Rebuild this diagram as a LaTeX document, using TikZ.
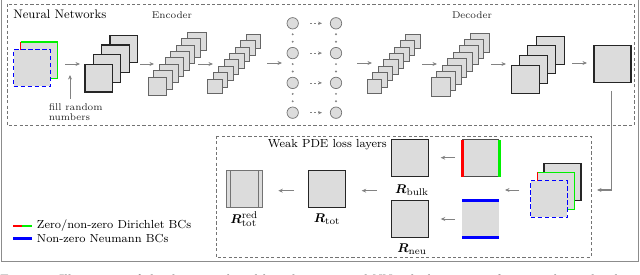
\documentclass[tikz,border=0pt]{standalone}
\usepackage{bm}
\usetikzlibrary{arrows.meta}
\definecolor{fillg}{RGB}{220,220,220}
\definecolor{arrg}{RGB}{130,130,130}
\definecolor{bcred}{RGB}{255,0,0}
\definecolor{bcgreen}{RGB}{0,240,0}
\definecolor{bcblue}{RGB}{0,0,255}
\begin{document}
\begin{tikzpicture}[x=0.025cm,y=-0.025cm,
  sqthick/.style={draw=black!85, line width=0.8pt, fill=fillg, inner sep=0pt, outer sep=0pt, minimum size=#1*0.025cm},
  sqthin/.style={draw=black!60, line width=0.5pt, fill=fillg, inner sep=0pt, outer sep=0pt, minimum size=#1*0.025cm},
  sqbare/.style={fill=fillg, inner sep=0pt, outer sep=0pt, minimum size=#1*0.025cm},
  neuron/.style={circle, draw=black!55, line width=0.5pt, fill=fillg, inner sep=0pt, minimum size=11.4*0.025cm},
  arr/.style={draw=arrg, line width=0.55pt, -{Stealth[length=3.2pt,width=2.8pt]}},
  darr/.style={draw=arrg, line width=0.5pt, dash pattern=on 1.6pt off 1.3pt, -{Stealth[length=2.8pt,width=2.4pt]}},
  dbox/.style={draw=black!55, line width=0.5pt, dash pattern=on 2.2pt off 1.6pt},
  lbl/.style={inner sep=0pt, font=\fontsize{9.5}{11}\selectfont},
  small/.style={inner sep=0pt, font=\fontsize{7}{8.4}\selectfont, text=black!85},
]
\useasboundingbox (0,0) rectangle (640,275);

% outer frame and caption
\draw[draw=black!45, line width=0.6pt] (1,-5) rectangle (638.5,261);
\node[anchor=north west, inner sep=0pt, font=\fontsize{9.6}{11}\selectfont] (cap) at (0,274.5) {Figure 1: Illustration of the discretized grid-based constrained NN, which consists of an encoder and a decoder, and the NN outputs};

% ---------------- Neural network box ----------------
\draw[dbox] (7,4) rectangle (634,125);
\node[anchor=west, inner sep=0pt, font=\fontsize{8.8}{10}\selectfont] (nntitle) at (13,14) {Neural Networks};
\node[small] (enc) at (172,15) {Encoder};
\node[small] (dec) at (472,15) {Decoder};

% input
\node[sqbare=36.6] (inb) at (39,60.3) {};
\draw[bcgreen, line width=0.9pt] (inb.north west) -- (inb.north east) -- (inb.south east) -- (inb.south west);
\draw[bcred, line width=0.9pt] (inb.north west) -- (inb.south west);
\node[sqbare=36.8, draw=bcblue, line width=0.9pt, dash pattern=on 3pt off 2pt] (inf) at (32,68) {};

\node[small, anchor=north west, align=left, font=\fontsize{7}{7.4}\selectfont] (fill) at (48.5,103) {fill random\\numbers};
\coordinate (fs) at (70,99);
\coordinate (fe) at (70,75);
\draw[arr] (fs) -- (fe);

\coordinate (a1s) at (65,64); \coordinate (a1e) at (80,64);
\draw[arr] (a1s) -- (a1e);

% encoder stack 1
\foreach \i in {3,2,1,0} \node[sqthick=27.5] (ea\i) at ({98.8+\i*8.3},{78.3-\i*9.8}) {};
\coordinate (a2s) at (140,64); \coordinate (a2e) at (154,64);
\draw[arr] (a2s) -- (a2e);
% encoder stack 2
\foreach \i in {7,6,...,0} \node[sqthin=18.7] (eb\i) at ({157.5+\i*5.6},{86.3-\i*6.4}) {};
\coordinate (a3s) at (198,64); \coordinate (a3e) at (213,64);
\draw[arr] (a3s) -- (a3e);
% encoder stack 3
\foreach \i in {7,6,...,0} \node[sqthin=14.6] (ec\i) at ({215+\i*5.5},{86.3-\i*6.4}) {};
\coordinate (a4s) at (267,63); \coordinate (a4e) at (282,63);
\draw[arr] (a4s) -- (a4e);

% latent neurons
\foreach \r in {0,1,2,3} {
  \node[neuron] (nl\r) at (292.7,{23.3+\r*29.8}) {};
  \node[neuron] (nr\r) at (336,{23.3+\r*29.8}) {};
  \coordinate (ds\r) at (310,{23.3+\r*29.8});
  \coordinate (de\r) at (322,{23.3+\r*29.8});
  \draw[darr] (ds\r) -- (de\r);
}
\foreach \r in {0,1,2} {
  \fill[arrg] (292.7,{34.3+\r*29.8}) circle (0.75pt);
  \fill[arrg] (292.7,{41.7+\r*29.8}) circle (0.75pt);
  \fill[arrg] (336,{34.3+\r*29.8}) circle (0.75pt);
  \fill[arrg] (336,{41.7+\r*29.8}) circle (0.75pt);
}
\coordinate (a5s) at (357,63); \coordinate (a5e) at (372,63);
\draw[arr] (a5s) -- (a5e);

% decoder stack 1
\foreach \i in {7,6,...,0} \node[sqthin=14.6] (da\i) at ({374.2+\i*5.5},{86.2-\i*6.4}) {};
\coordinate (a6s) at (422,64); \coordinate (a6e) at (437,64);
\draw[arr] (a6s) -- (a6e);
% decoder stack 2
\foreach \i in {7,6,...,0} \node[sqthin=19] (db\i) at ({440.5+\i*5.6},{87.2-\i*6.4}) {};
\coordinate (a7s) at (491,64); \coordinate (a7e) at (506,64);
\draw[arr] (a7s) -- (a7e);
% decoder stack 3
\foreach \i in {3,2,1,0} \node[sqthick=28] (dc\i) at ({525.2+\i*8.3},{79.2-\i*9.7}) {};
\coordinate (a8s) at (572,63); \coordinate (a8e) at (587,63);
\draw[arr] (a8s) -- (a8e);
% output
\node[sqthick=37] (out) at (612.5,63.9) {};

% ---------------- Weak PDE box ----------------
\draw[dbox] (216,136) rectangle (591,257);
\node[anchor=west, inner sep=0pt, font=\fontsize{8.3}{10}\selectfont] (wtitle) at (267.7,145) {Weak PDE loss layers};

% stacked input
\node[sqthick=37] (sb) at (562.5,182.3) {};
\node[sqbare=37] (sm) at (555.8,191) {};
\draw[bcgreen, line width=0.9pt] (sm.north west) -- (sm.north east) -- (sm.south east) -- (sm.south west);
\draw[bcred, line width=0.9pt] (sm.north west) -- (sm.south west);
\node[sqbare=36.6, draw=bcblue, line width=0.9pt, dash pattern=on 3pt off 2pt] (sf) at (549,199) {};

\coordinate (ctop) at (611.7,91);
\coordinate (cend) at (597,190);
\draw[arr, line width=0.9pt] (ctop) |- (cend);

\coordinate (b1s) at (519.3,190); \coordinate (b1e) at (505,190);
\draw[arr] (b1s) -- (b1e);

% BC squares
\node[sqbare=37] (bulkbc) at (480.8,158.3) {};
\draw[black!70, line width=0.5pt] (bulkbc.north west) -- (bulkbc.north east);
\draw[black!70, line width=0.5pt] (bulkbc.south west) -- (bulkbc.south east);
\draw[bcred, line width=2.2pt] (bulkbc.north west) -- (bulkbc.south west);
\draw[bcgreen, line width=1.8pt] (bulkbc.north east) -- (bulkbc.south east);

\node[sqbare=37] (neubc) at (480.8,218.7) {};
\draw[bcblue, line width=2.2pt] (neubc.north west) -- (neubc.north east);
\draw[bcblue, line width=2.2pt] (neubc.south west) -- (neubc.south east);

\coordinate (b2s) at (455,157.7); \coordinate (b2e) at (440.7,157.7);
\draw[arr] (b2s) -- (b2e);
\coordinate (b3s) at (455,219); \coordinate (b3e) at (440.7,219);
\draw[arr] (b3s) -- (b3e);

% residual squares
\node[sqthick=37] (rbulk) at (410.3,158) {};
\node[lbl] (lbulk) at (412,190) {$\bm{R}_{\mathrm{bulk}}$};
\node[sqthick=37] (rneu) at (410.3,218.7) {};
\node[lbl] (lneu) at (412,249) {$\bm{R}_{\mathrm{neu}}$};

\coordinate (b4s) at (376.7,190.7); \coordinate (b4e) at (361.7,190.7);
\draw[arr] (b4s) -- (b4e);

\node[sqthick=37.4] (rtot) at (327,189.2) {};
\node[lbl] (ltot) at (327,219) {$\bm{R}_{\mathrm{tot}}$};

\coordinate (b5s) at (294,190.7); \coordinate (b5e) at (278.3,190.7);
\draw[arr] (b5s) -- (b5e);

\node[sqthin=36.7, draw=black!55, line width=0.6pt] (rred) at (244.3,188.7) {};
\draw[black!55, line width=0.6pt] ([xshift=4.4*0.025cm]rred.north west) -- ([xshift=4.4*0.025cm]rred.south west);
\draw[black!55, line width=0.6pt] ([xshift=-4.4*0.025cm]rred.north east) -- ([xshift=-4.4*0.025cm]rred.south east);
\node[lbl] (lred) at (244.3,219) {$\bm{R}^{\mathrm{red}}_{\mathrm{tot}}$};

% ---------------- legend ----------------
\coordinate (lg1) at (13.3,226); \coordinate (lg2) at (21.7,226); \coordinate (lg3) at (31.7,226);
\draw[bcred, line width=2pt] (lg1) -- (lg2);
\draw[bcgreen, line width=2pt] (lg2) -- (lg3);
\node[anchor=west, inner sep=0pt, font=\fontsize{8.3}{10}\selectfont] (leg1) at (36.7,226) {Zero/non-zero Dirichlet BCs};
\coordinate (lb1) at (13.3,238.3); \coordinate (lb2) at (31.7,238.3);
\draw[bcblue, line width=2pt] (lb1) -- (lb2);
\node[anchor=west, inner sep=0pt, font=\fontsize{8.3}{10}\selectfont] (leg2) at (36.7,238.3) {Non-zero Neumann BCs};
\end{tikzpicture}
\end{document}
